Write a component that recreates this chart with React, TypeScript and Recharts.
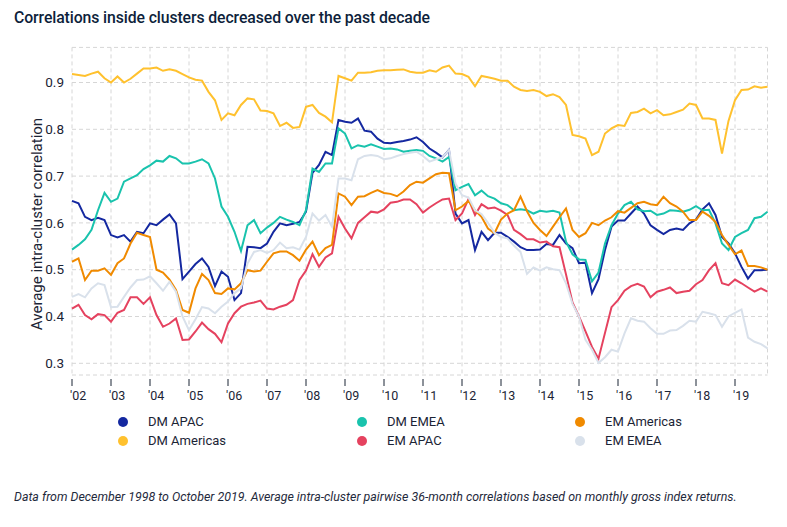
import React from 'react';
import { LineChart, Line, XAxis, YAxis, CartesianGrid } from 'recharts';

// Sampling: every second month (Jan, Mar, May, Jul, Sep, Nov) from 2002 to 2019
const years = [2002, 2003, 2004, 2005, 2006, 2007, 2008, 2009, 2010, 2011, 2012, 2013, 2014, 2015, 2016, 2017, 2018, 2019];
const sampledMonths = [0, 2, 4, 6, 8, 10];
const dates = years.flatMap((y) => sampledMonths.map((m) => y + m / 12));

const xTickLabels = ["'02", "'03", "'04", "'05", "'06", "'07", "'08", "'09", "'10", "'11", "'12", "'13", "'14", "'15", "'16", "'17", "'18", "'19"];
const yTicks = [0.3, 0.4, 0.5, 0.6, 0.7, 0.8, 0.9];

const dmApac = [
  0.647, 0.642, 0.613, 0.606, 0.611, 0.606,
  0.574, 0.569, 0.574, 0.560, 0.581, 0.578,
  0.599, 0.595, 0.607, 0.618, 0.599, 0.480,
  0.496, 0.512, 0.524, 0.506, 0.465, 0.496,
  0.485, 0.435, 0.450, 0.549, 0.548, 0.546,
  0.556, 0.581, 0.599, 0.595, 0.598, 0.602,
  0.624, 0.707, 0.724, 0.752, 0.745, 0.820,
  0.816, 0.814, 0.823, 0.797, 0.795, 0.780,
  0.771, 0.770, 0.773, 0.775, 0.778, 0.783,
  0.773, 0.759, 0.750, 0.740, 0.756, 0.620,
  0.599, 0.606, 0.542, 0.581, 0.563, 0.579,
  0.579, 0.570, 0.560, 0.548, 0.542, 0.542,
  0.543, 0.555, 0.553, 0.574, 0.556, 0.546,
  0.514, 0.515, 0.450, 0.480, 0.542, 0.592,
  0.605, 0.605, 0.620, 0.635, 0.620, 0.595,
  0.585, 0.576, 0.585, 0.588, 0.585, 0.599,
  0.607, 0.629, 0.642, 0.617, 0.570, 0.556,
  0.535, 0.506, 0.481, 0.499, 0.499, 0.500,
];

const dmAmericas = [
  0.918, 0.916, 0.914, 0.919, 0.923, 0.909,
  0.900, 0.913, 0.900, 0.908, 0.919, 0.930,
  0.930, 0.932, 0.925, 0.928, 0.925, 0.918,
  0.911, 0.906, 0.904, 0.880, 0.862, 0.820,
  0.834, 0.830, 0.852, 0.866, 0.864, 0.840,
  0.839, 0.834, 0.807, 0.814, 0.803, 0.805,
  0.848, 0.852, 0.835, 0.827, 0.815, 0.914,
  0.909, 0.904, 0.921, 0.921, 0.922, 0.925,
  0.926, 0.926, 0.927, 0.928, 0.923, 0.921,
  0.921, 0.926, 0.923, 0.932, 0.936, 0.919,
  0.918, 0.912, 0.892, 0.914, 0.911, 0.908,
  0.904, 0.904, 0.891, 0.884, 0.882, 0.884,
  0.880, 0.871, 0.875, 0.869, 0.852, 0.788,
  0.785, 0.780, 0.745, 0.752, 0.791, 0.802,
  0.809, 0.807, 0.835, 0.837, 0.844, 0.834,
  0.841, 0.830, 0.832, 0.837, 0.842, 0.855,
  0.852, 0.823, 0.823, 0.820, 0.748, 0.818,
  0.862, 0.884, 0.885, 0.892, 0.889, 0.891,
];

const dmEmea = [
  0.543, 0.553, 0.565, 0.585, 0.627, 0.664,
  0.645, 0.652, 0.688, 0.695, 0.702, 0.715,
  0.723, 0.733, 0.731, 0.743, 0.738, 0.727,
  0.727, 0.731, 0.736, 0.727, 0.695, 0.635,
  0.613, 0.581, 0.540, 0.595, 0.606, 0.578,
  0.590, 0.600, 0.613, 0.607, 0.602, 0.595,
  0.627, 0.716, 0.709, 0.727, 0.727, 0.802,
  0.791, 0.759, 0.766, 0.763, 0.768, 0.763,
  0.758, 0.759, 0.757, 0.752, 0.754, 0.756,
  0.754, 0.743, 0.738, 0.731, 0.741, 0.670,
  0.677, 0.683, 0.659, 0.669, 0.657, 0.652,
  0.642, 0.638, 0.627, 0.629, 0.627, 0.620,
  0.626, 0.624, 0.626, 0.622, 0.560, 0.533,
  0.522, 0.521, 0.475, 0.494, 0.556, 0.595,
  0.620, 0.638, 0.645, 0.629, 0.625, 0.626,
  0.617, 0.620, 0.627, 0.626, 0.624, 0.628,
  0.636, 0.627, 0.628, 0.599, 0.556, 0.542,
  0.570, 0.578, 0.585, 0.610, 0.613, 0.624,
];

const emApac = [
  0.417, 0.425, 0.403, 0.394, 0.405, 0.403,
  0.389, 0.408, 0.414, 0.441, 0.441, 0.427,
  0.441, 0.403, 0.378, 0.385, 0.396, 0.350,
  0.351, 0.368, 0.387, 0.373, 0.363, 0.345,
  0.385, 0.407, 0.421, 0.427, 0.430, 0.434,
  0.417, 0.415, 0.421, 0.425, 0.435, 0.478,
  0.498, 0.533, 0.506, 0.526, 0.535, 0.613,
  0.588, 0.567, 0.600, 0.612, 0.624, 0.622,
  0.629, 0.643, 0.645, 0.650, 0.650, 0.640,
  0.622, 0.633, 0.642, 0.650, 0.652, 0.606,
  0.620, 0.651, 0.617, 0.640, 0.631, 0.633,
  0.626, 0.617, 0.585, 0.576, 0.565, 0.565,
  0.558, 0.560, 0.550, 0.548, 0.490, 0.430,
  0.400, 0.368, 0.335, 0.310, 0.365, 0.420,
  0.435, 0.455, 0.465, 0.470, 0.464, 0.441,
  0.453, 0.457, 0.462, 0.450, 0.453, 0.455,
  0.469, 0.478, 0.499, 0.514, 0.471, 0.467,
  0.479, 0.471, 0.462, 0.453, 0.460, 0.453,
];

const emAmericas = [
  0.517, 0.524, 0.478, 0.498, 0.498, 0.503,
  0.489, 0.514, 0.524, 0.556, 0.579, 0.574,
  0.570, 0.500, 0.494, 0.479, 0.457, 0.414,
  0.408, 0.460, 0.491, 0.478, 0.450, 0.448,
  0.460, 0.458, 0.471, 0.499, 0.496, 0.498,
  0.517, 0.535, 0.539, 0.539, 0.531, 0.519,
  0.543, 0.560, 0.531, 0.546, 0.553, 0.663,
  0.656, 0.638, 0.656, 0.657, 0.664, 0.670,
  0.664, 0.662, 0.657, 0.667, 0.681, 0.688,
  0.686, 0.695, 0.704, 0.707, 0.706, 0.627,
  0.635, 0.647, 0.627, 0.613, 0.588, 0.578,
  0.607, 0.620, 0.627, 0.656, 0.625, 0.600,
  0.585, 0.572, 0.592, 0.612, 0.631, 0.585,
  0.570, 0.578, 0.600, 0.595, 0.605, 0.612,
  0.625, 0.622, 0.632, 0.642, 0.645, 0.640,
  0.638, 0.656, 0.642, 0.635, 0.624, 0.606,
  0.606, 0.624, 0.615, 0.602, 0.574, 0.553,
  0.533, 0.541, 0.508, 0.508, 0.505, 0.500,
];

const emEmea = [
  0.442, 0.448, 0.441, 0.460, 0.471, 0.467,
  0.420, 0.421, 0.442, 0.462, 0.478, 0.479,
  0.486, 0.471, 0.455, 0.474, 0.453, 0.400,
  0.371, 0.394, 0.420, 0.417, 0.407, 0.421,
  0.432, 0.450, 0.460, 0.513, 0.538, 0.542,
  0.536, 0.542, 0.558, 0.546, 0.548, 0.543,
  0.570, 0.620, 0.605, 0.617, 0.592, 0.695,
  0.695, 0.691, 0.736, 0.743, 0.745, 0.743,
  0.736, 0.738, 0.743, 0.747, 0.750, 0.752,
  0.743, 0.731, 0.736, 0.740, 0.756, 0.684,
  0.659, 0.654, 0.627, 0.619, 0.600, 0.579,
  0.570, 0.567, 0.551, 0.538, 0.491, 0.505,
  0.498, 0.505, 0.501, 0.499, 0.471, 0.427,
  0.400, 0.350, 0.329, 0.301, 0.313, 0.329,
  0.325, 0.364, 0.396, 0.391, 0.389, 0.375,
  0.363, 0.363, 0.370, 0.371, 0.380, 0.391,
  0.389, 0.410, 0.407, 0.403, 0.378, 0.400,
  0.408, 0.415, 0.355, 0.346, 0.341, 0.332,
];

const series = [
  { key: 'dmApac', name: 'DM APAC', color: '#1428a0', values: dmApac },
  { key: 'dmAmericas', name: 'DM Americas', color: '#ffc12e', values: dmAmericas },
  { key: 'dmEmea', name: 'DM EMEA', color: '#19c3ad', values: dmEmea },
  { key: 'emApac', name: 'EM APAC', color: '#e5425f', values: emApac },
  { key: 'emAmericas', name: 'EM Americas', color: '#f08a00', values: emAmericas },
  { key: 'emEmea', name: 'EM EMEA', color: '#d9e1eb', values: emEmea },
];

// legend order: row-major in 3 columns
const legendOrder = ['dmApac', 'dmEmea', 'emAmericas', 'dmAmericas', 'emApac', 'emEmea'];

const rows = dates.map((t, i) => {
  const r: Record<string, number> = { t };
  series.forEach((s) => {
    r[s.key] = s.values[i];
  });
  return r;
});

const FONT = 'Roboto, "Noto Sans", sans-serif';
const TEXT = '#1b2435';
const PLOT_BOTTOM = 375;

const XTick = (props: any) => {
  const { x, payload, index } = props;
  const label = xTickLabels[years.indexOf(payload.value)] ?? xTickLabels[index];
  return (
    <g>
      <line x1={x} x2={x} y1={PLOT_BOTTOM + 4} y2={PLOT_BOTTOM + 11} stroke={TEXT} strokeWidth={1} />
      <text x={x - 2} y={PLOT_BOTTOM + 25} textAnchor="start" fontSize={12.5} fill={TEXT} fontFamily={FONT}>
        {label}
      </text>
    </g>
  );
};

export default function App() {
  const legendCols = [123, 362, 580];
  const legendRows = [422, 441];
  return (
    <div style={{ position: 'absolute', left: 0, top: 0, width: 787, height: 527, background: '#fff', fontFamily: FONT, color: TEXT }}>
      <div style={{ position: 'absolute', left: 14, top: 9, fontSize: 15.8, fontWeight: 500, lineHeight: '18px', color: '#0e1f3b', whiteSpace: 'nowrap', letterSpacing: -0.1 }}>
        Correlations inside clusters decreased over the past decade
      </div>
      <div style={{ position: 'absolute', left: 0, top: 0 }}>
        <LineChart
          width={787}
          height={410}
          data={rows}
          margin={{ top: 47.4, right: 19.5, bottom: 5, left: 12 }}
        >
          <CartesianGrid stroke="#d6d6d6" strokeDasharray="4 3" />
          <XAxis
            dataKey="t"
            type="number"
            domain={[2002, 2019.833]}
            ticks={years}
            axisLine={false}
            tickLine={false}
            height={30}
            interval={0}
            tick={<XTick />}
          />
          <YAxis
            type="number"
            domain={[0.275, 0.975]}
            ticks={yTicks}
            width={60}
            axisLine={false}
            tickLine={false}
            tickSize={6}
            tickMargin={2}
            tick={{ fontSize: 13.5, fill: TEXT, fontFamily: FONT }}
            tickFormatter={(v: number) => v.toFixed(1)}
          />
          {series.map((s) => (
            <Line
              key={s.key}
              type="linear"
              dataKey={s.key}
              name={s.name}
              stroke={s.color}
              strokeWidth={2}
              dot={false}
              activeDot={false}
              isAnimationActive={false}
            />
          ))}
        </LineChart>
      </div>
      <div
        style={{
          position: 'absolute',
          left: 37,
          top: 224,
          transform: 'translate(-50%, -50%) rotate(-90deg)',
          whiteSpace: 'nowrap',
          fontSize: 15,
          color: TEXT,
        }}
      >
        Average intra-cluster correlation
      </div>
      {legendOrder.map((k, i) => {
        const s = series.find((d) => d.key === k)!;
        const cx = legendCols[i % 3];
        const cy = legendRows[Math.floor(i / 3)];
        return (
          <div key={k}>
            <div
              style={{
                position: 'absolute',
                left: cx - 5,
                top: cy - 5,
                width: 10,
                height: 10,
                borderRadius: 5,
                background: s.color,
              }}
            />
            <div
              style={{
                position: 'absolute',
                left: cx + 25,
                top: cy - 8,
                fontSize: 13,
                lineHeight: '16px',
                whiteSpace: 'nowrap',
                color: TEXT,
              }}
            >
              {s.name}
            </div>
          </div>
        );
      })}
      <div
        style={{
          position: 'absolute',
          left: 14,
          top: 490,
          fontSize: 12.4,
          lineHeight: '14px',
          fontStyle: 'italic',
          whiteSpace: 'nowrap',
          color: '#1f2a3c',
        }}
      >
        Data from December 1998 to October 2019. Average intra-cluster pairwise 36-month correlations based on monthly gross index returns.
      </div>
    </div>
  );
}
